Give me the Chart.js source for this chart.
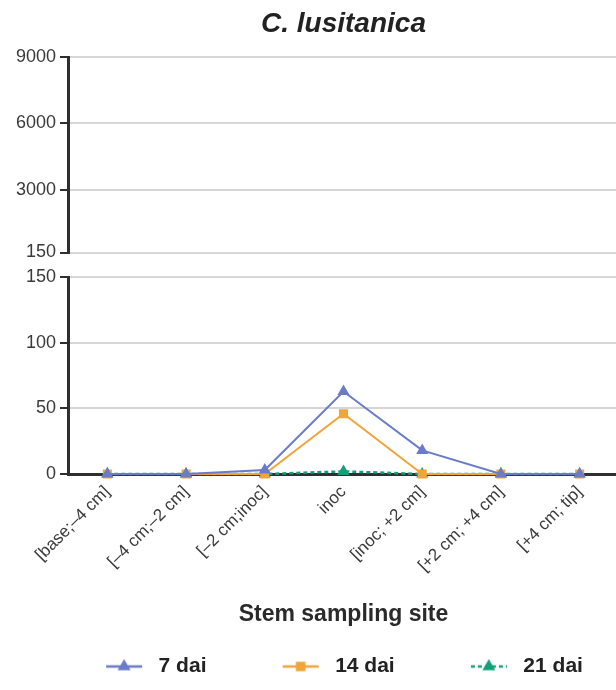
<!DOCTYPE html>
<html>
<head>
<meta charset="utf-8">
<script src="https://cdn.jsdelivr.net/npm/chart.js@4.4.1/dist/chart.umd.min.js"></script>
<style>
  html, body { margin: 0; padding: 0; background: #fff; overflow: hidden; }
  #wrap { width: 616px; height: 690px; overflow: hidden; }
  canvas { display: block; }
</style>
</head>
<body>
<div id="wrap"><canvas id="chart" width="626" height="687"></canvas></div>
<script>
const sites = ['[base;–4 cm]', '[–4 cm;–2 cm]', '[–2 cm;inoc]', 'inoc', '[inoc; +2 cm]', '[+2 cm; +4 cm]', '[+4 cm; tip]'];
const dai7 = [0, 0, 3, 63, 18, 0, 0];
const dai14 = [0, 0, 0, 46, 0, 0, 0];
const dai21 = [0, 0, 0, 2, 0, 0, 0];
const upperTicks = [150, 3000, 6000, 9000];
const lowerTicks = [0, 50, 100, 150];

const BLUE = '#6a7cc9';
const ORANGE = '#f0a53a';
const GREEN = '#13a079';
const AXIS = '#2f2f2f';
const GRID = '#d6d6d6';
const FONT = "'Liberation Sans', Arial, sans-serif";

// small line + marker sample used as the legend symbol
function legendSymbol(color, style, dash) {
  const c = document.createElement('canvas');
  c.width = 44;
  c.height = 16;
  const g = c.getContext('2d');
  g.strokeStyle = color;
  g.fillStyle = color;
  g.lineWidth = 2.5;
  g.setLineDash(dash);
  g.beginPath();
  g.moveTo(2, 8);
  g.lineTo(38, 8);
  g.stroke();
  g.setLineDash([]);
  Chart.helpers.drawPoint(g, {pointStyle: style, radius: 5, borderWidth: 1}, 20, 8);
  return c;
}

const symbols = [
  legendSymbol(BLUE, 'triangle', []),
  legendSymbol(ORANGE, 'rect', []),
  legendSymbol(GREEN, 'triangle', [4, 3])
];

function yGrid() {
  return {
    color: ctx => (ctx.tick && ctx.tick.value === 0) ? 'rgba(0,0,0,0)' : GRID,
    lineWidth: 2,
    tickColor: AXIS,
    tickLength: 8,
    tickWidth: 2
  };
}

const yTicks = {
  padding: 4,
  color: '#3a3a3a',
  font: {family: FONT, size: 18},
  callback: v => String(v)
};

new Chart(document.getElementById('chart'), {
  type: 'line',
  data: {
    labels: sites,
    datasets: [{
      label: '7 dai',
      data: dai7,
      borderColor: BLUE,
      backgroundColor: BLUE,
      borderWidth: 2,
      pointStyle: 'triangle',
      pointRadius: 5,
      yAxisID: 'y',
      clip: false
    }, {
      label: '14 dai',
      data: dai14,
      borderColor: ORANGE,
      backgroundColor: ORANGE,
      borderWidth: 2,
      pointStyle: 'rect',
      pointRadius: 5,
      yAxisID: 'y',
      clip: false
    }, {
      label: '21 dai',
      data: dai21,
      borderColor: GREEN,
      backgroundColor: GREEN,
      borderWidth: 2.5,
      borderDash: [4, 3],
      pointStyle: 'triangle',
      pointRadius: 4.5,
      yAxisID: 'y',
      clip: false
    }]
  },
  options: {
    responsive: false,
    animation: false,
    layout: {padding: 0},
    scales: {
      x: {
        type: 'category',
        offset: true,
        grid: {display: false, drawTicks: false},
        border: {color: AXIS, width: 3},
        ticks: {
          autoSkip: false,
          minRotation: 45,
          maxRotation: 45,
          padding: 8,
          color: '#3a3a3a',
          font: {family: FONT, size: 17}
        },
        title: {
          display: true,
          text: 'Stem sampling site',
          color: '#2a2a2a',
          font: {family: FONT, size: 23, weight: 'bold'},
          padding: {top: 0, bottom: 18}
        },
        afterFit: s => { s.height = 172; }
      },
      // lower panel 0-150
      y: {
        type: 'linear',
        position: 'left',
        stack: 'broken',
        stackWeight: 197,
        min: 0,
        max: 150,
        afterBuildTicks: s => { s.ticks = lowerTicks.map(v => ({value: v})); },
        afterFit: s => { s.width = 68; },
        grid: yGrid(),
        border: {color: AXIS, width: 3},
        ticks: yTicks
      },
      // empty band between the two panels
      yGap: {
        type: 'linear',
        position: 'left',
        stack: 'broken',
        stackWeight: 25,
        display: false
      },
      // upper panel 150-9000
      yTop: {
        type: 'linear',
        position: 'left',
        stack: 'broken',
        stackWeight: 196,
        min: 150,
        max: 9000,
        afterBuildTicks: s => { s.ticks = upperTicks.map(v => ({value: v})); },
        afterFit: s => { s.width = 68; },
        grid: yGrid(),
        border: {color: AXIS, width: 3},
        ticks: yTicks
      }
    },
    plugins: {
      title: {
        display: true,
        text: 'C. lusitanica',
        fullSize: false,
        color: '#222',
        font: {family: FONT, size: 28, weight: 'bold', style: 'italic'},
        padding: {top: 7, bottom: 16.4}
      },
      legend: {
        position: 'bottom',
        fullSize: false,
        labels: {
          usePointStyle: true,
          pointStyleWidth: 44,
          padding: 10,
          color: '#222',
          font: {family: FONT, size: 21, weight: 'bold'},
          generateLabels(chart) {
            const items = Chart.defaults.plugins.legend.labels.generateLabels(chart);
            items.forEach((it, i) => {
              it.pointStyle = symbols[i];
              // trailing room between one entry and the next
              if (i < items.length - 1) it.text = it.text + ' '.repeat(11);
            });
            return items;
          }
        }
      },
      tooltip: {enabled: false}
    }
  }
});
</script>
</body>
</html>
